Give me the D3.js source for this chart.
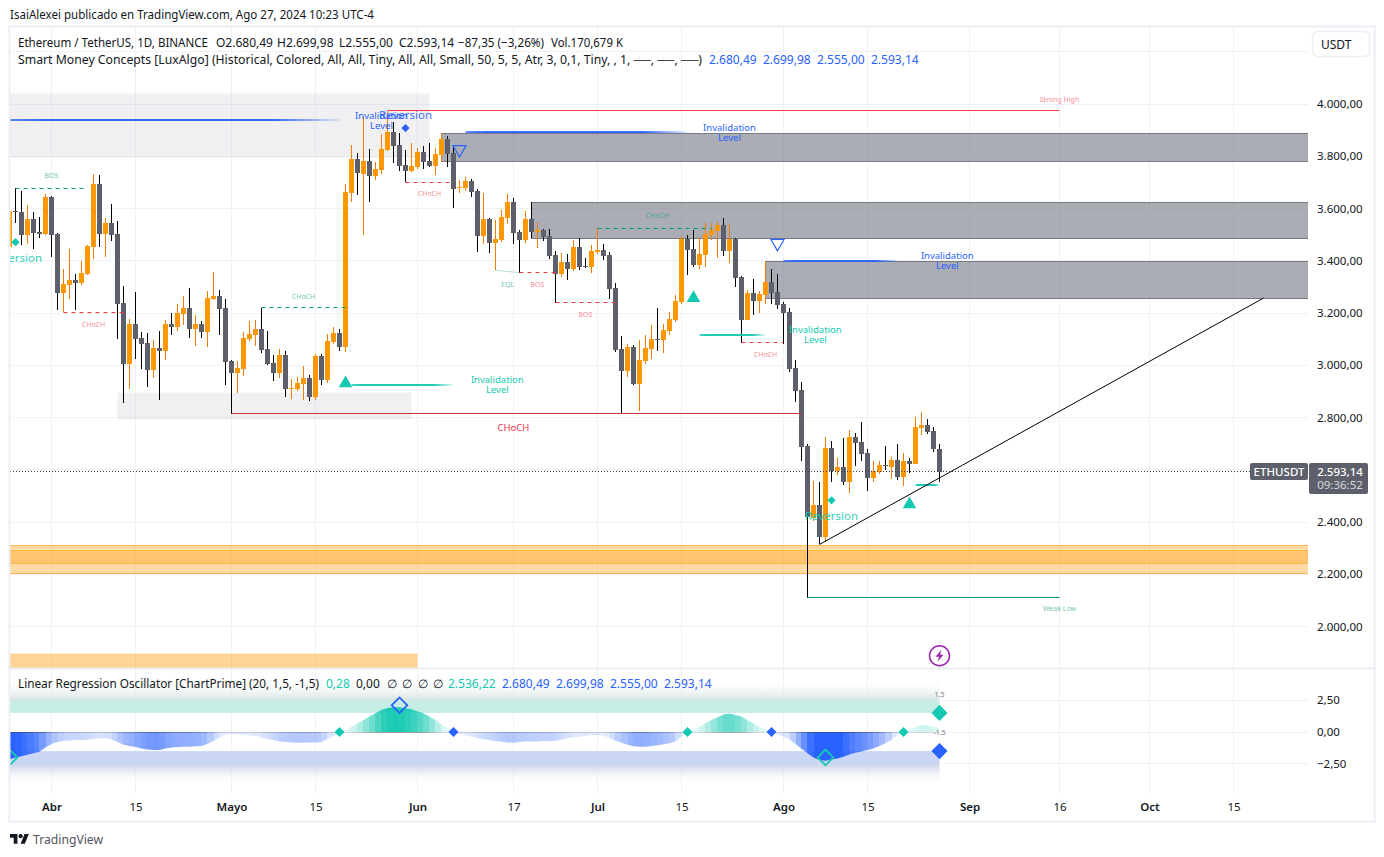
<!DOCTYPE html>
<html>
<head>
<meta charset="utf-8">
<style>
  html, body { margin: 0; padding: 0; background: #fff; }
  svg { display: block; }
  text { font-family: "Noto Sans", sans-serif; }
</style>
</head>
<body>
<svg id="chart" width="1384" height="857"></svg>
<script src="https://cdn.jsdelivr.net/npm/d3@7"></script>
<script>
// ETHUSDT daily candles, 25 Mar 2024 -> 27 Aug 2024
const FIRST_DAY = -7; // days relative to 1 Apr

const opens = [
  3454,3590,3586,3498,3559,3510,3502,3644,3502,3276,
  3307,3326,3314,3349,3452,3694,3502,3544,3502,3238,
  3004,3157,3104,3084,2981,3065,3054,3157,3146,3196,
  3219,3138,3157,3127,3253,3265,3219,3015,2969,2985,
  3100,3115,3138,3061,3008,2969,3038,2908,2908,2927,
  2950,2878,3035,2943,3088,3123,3069,3659,3789,3732,
  3782,3724,3747,3824,3894,3843,3766,3743,3759,3816,
  3782,3763,3805,3866,3812,3678,3678,3705,3667,3494,
  3559,3467,3479,3563,3625,3510,3479,3559,3510,3517,
  3494,3422,3349,3395,3368,3452,3378,3376,3433,3441,
  3422,3295,3061,2977,3069,2927,3015,3061,3100,3096,
  3130,3172,3241,3483,3444,3383,3421,3498,3513,3536,
  3437,3483,3337,3172,3276,3245,3268,3318,3280,3234,
  3203,2989,2904,2690,2414,2464,2341,2682,2594,2609,
  2552,2724,2705,2663,2567,2590,2617,2609,2636,2571,
  2632,2621,2759,2770,2747,2680.49
];
const highs = [
  3650,3677,3667,3613,3586,3567,3655,3648,3506,3368,
  3445,3349,3399,3460,3732,3728,3563,3617,3552,3303,
  3176,3280,3127,3123,3096,3130,3173,3199,3234,3265,
  3295,3192,3169,3284,3356,3288,3253,3022,3015,3127,
  3169,3173,3221,3130,3038,3061,3054,2947,2954,2996,
  2962,3042,3042,3119,3146,3138,3694,3843,3812,3952,
  3828,3778,3885,3975,3931,3889,3824,3851,3831,3839,
  3851,3831,3888,3877,3839,3709,3720,3713,3674,3659,
  3563,3556,3594,3655,3640,3517,3590,3625,3548,3521,
  3521,3437,3429,3425,3479,3488,3410,3460,3524,3464,
  3433,3314,3111,3081,3077,3096,3115,3153,3218,3157,
  3203,3268,3494,3498,3517,3490,3543,3543,3548,3563,
  3540,3487,3341,3287,3330,3284,3398,3368,3349,3241,
  3218,3019,2935,2697,2556,2552,2724,2709,2644,2720,
  2751,2740,2782,2678,2632,2632,2690,2648,2697,2663,
  2644,2801,2820,2793,2763,2699.98
];
const lows = [
  3420,3545,3460,3464,3445,3488,3500,3414,3211,3202,
  3253,3211,3307,3345,3406,3452,3414,3475,3100,2855,
  2908,3023,2985,2916,2950,2866,3019,3115,3130,3153,
  3104,3073,3104,3069,3249,3115,2924,2815,2893,2958,
  3092,3073,3046,3000,2939,2950,2878,2870,2901,2866,
  2862,2866,2924,2931,3081,3054,3050,3625,3651,3498,
  3625,3709,3732,3820,3774,3743,3701,3740,3751,3751,
  3759,3728,3779,3759,3602,3659,3667,3644,3433,3464,
  3429,3364,3471,3540,3464,3354,3467,3487,3448,3475,
  3406,3240,3337,3326,3360,3364,3372,3353,3425,3402,
  3253,3050,2815,2954,2923,2824,3004,3023,3054,3046,
  3115,3165,3234,3345,3376,3368,3376,3479,3410,3418,
  3391,3299,3087,3172,3192,3199,3234,3234,3215,3083,
  2973,2858,2632,2111,2402,2314,2322,2552,2579,2540,
  2510,2613,2632,2517,2552,2583,2598,2563,2560,2537,
  2586,2621,2732,2736,2667,2555
];
const closes = [
  3590,3585,3498,3559,3506,3502,3644,3498,3276,3310,
  3326,3314,3353,3456,3694,3502,3544,3498,3234,3004,
  3157,3100,3081,2981,3065,3054,3157,3146,3199,3219,
  3138,3157,3127,3257,3265,3215,3012,2969,2989,3104,
  3119,3138,3058,3004,2969,3038,2908,2912,2931,2950,
  2878,3035,2943,3092,3123,3069,3663,3789,3736,3782,
  3724,3751,3828,3894,3839,3763,3743,3763,3816,3778,
  3763,3808,3866,3808,3674,3682,3705,3663,3494,3559,
  3467,3483,3567,3625,3506,3479,3559,3510,3517,3490,
  3418,3349,3395,3368,3452,3376,3376,3437,3441,3418,
  3291,3058,2977,3069,2927,3019,3065,3100,3096,3134,
  3176,3245,3483,3441,3383,3425,3502,3517,3536,3437,
  3483,3333,3172,3276,3245,3272,3318,3276,3230,3199,
  2985,2900,2686,2418,2464,2341,2682,2594,2609,2552,
  2724,2701,2659,2567,2594,2617,2613,2636,2571,2632,
  2621,2763,2770,2743,2678,2593.14
];

// Linear Regression Oscillator, same days
const oscValues = [
  -2.16,-2.0,-1.9,-1.79,-1.68,-1.55,-1.21,-.95,-.79,-.68,
  -.66,-.63,-.63,-.6,-.55,-.5,-.5,-.58,-.79,-1.0,
  -1.1,-1.18,-1.29,-1.37,-1.42,-1.42,-1.29,-1.21,-1.18,-1.16,
  -1.16,-1.13,-1.1,-.95,-.68,-.45,-.18,-.16,-.18,-.24,
  -.26,-.32,-.45,-.55,-.63,-.74,-.79,-.82,-.84,-.84,
  -.82,-.82,-.79,-.55,-.32,-.08,.16,.42,.68,.95,
  1.21,1.47,1.74,1.89,1.95,1.95,1.87,1.79,1.63,1.47,
  1.21,.95,.55,.29,.02,-.16,-.26,-.37,-.5,-.58,
  -.63,-.71,-.76,-.82,-.84,-.79,-.74,-.74,-.74,-.71,
  -.71,-.68,-.58,-.5,-.42,-.37,-.32,-.24,-.24,-.29,
  -.47,-.68,-.84,-1.0,-1.13,-1.16,-1.16,-1.1,-1.05,-.97,
  -.89,-.74,-.37,-.05,.16,.42,.68,.95,1.16,1.37,
  1.45,1.34,1.21,.95,.68,.42,.21,.02,-.21,-.37,
  -.58,-.95,-1.32,-1.68,-2.0,-2.21,-2.26,-2.16,-2.08,-1.95,
  -1.76,-1.63,-1.53,-1.42,-1.29,-1.1,-.89,-.63,-.24,.02,
  .21,.42,.55,.53,.42,.28
];

const gridPrices = [4200,4000,3800,3600,3400,3200,3000,2800,2600,2400,2200,2000];
const labelledPrices = [4000,3800,3600,3400,3200,3000,2800,2400,2200,2000];
const oscTicks = [2.5, 0, -2.5];
const timeTickDates = ['2024-04-01','2024-04-15','2024-05-01','2024-05-15','2024-06-01','2024-06-17',
  '2024-07-01','2024-07-15','2024-08-01','2024-08-15','2024-09-01','2024-09-16','2024-10-01','2024-10-15'];
const timeTickLabels = ['Abr','15','Mayo','15','Jun','17','Jul','15','Ago','15','Sep','16','Oct','15'];
const monthLabels = ['Abr','Mayo','Jun','Jul','Ago','Sep','Oct'];

// zones: [startDay, endDay (null = past the price axis), topPrice, bottomPrice]
const lightZones = [[-7, 63, 4042, 3798], [11, 60, 2897, 2793]];
const darkZones = [[65, null, 3889, 3780], [80, null, 3625, 3487], [119, null, 3399, 3257]];

// structure lines: [startDay, endDay, price, colour]
const RED = '#f23645', GREEN = '#089981', TEAL = '#14c9b1', BLUE = '#2962ff';
const dashedLevels = [
  [-6, 6, 3677, GREEN], [2, 12, 3203, RED], [35, 49, 3221, GREEN], [59, 67, 3701, RED],
  [78, 84, 3354, RED], [84, 94, 3240, RED], [91, 110, 3524, GREEN], [115, 122, 3088, RED]
];
const solidLevels = [[56, 168, 3975, RED], [126, 168, 2111, GREEN], [30, 125, 2815, '#c9343f']];
const invalidationLines = [
  [-7, 48, 3935, BLUE], [69, 106, 3889, BLUE], [122, 141, 3399, BLUE],
  [50, 67, 2923, TEAL], [108, 119, 3115, TEAL], [144, 148, 2538, TEAL]
];
// [day, price, text, colour]
const smallLabels = [
  [0, 3728, 'BOS', GREEN], [7, 3155, 'CHoCH', RED], [42, 3264, 'CHoCH', GREEN], [63, 3659, 'CHoCH', RED],
  [76, 3308, 'EQL', GREEN], [81, 3308, 'BOS', RED], [89, 3194, 'BOS', RED], [101, 3573, 'CHoCH', GREEN],
  [119, 3040, 'CHoCH', RED], [168, 4019, 'Strong High', RED], [168, 2069, 'Weak Low', GREEN]
];
const invalidationLabels = [
  [55, 3954, BLUE], [113, 3908, BLUE], [149.3, 3418, BLUE], [74.3, 2943, TEAL], [127.3, 3134, TEAL]
];
const reversionLabels = [[59, 3958, BLUE], [130, 2425, TEAL], [-6, 3414, TEAL]];
const reversionDiamonds = [[59, 3908, BLUE], [130, 2483, TEAL], [-6, 3471, TEAL]];
const upTriangles = [[49, 2931], [107, 3257], [143, 2468]];
const downTriangles = [[68, 3826], [121, 3467]];
const trendLine = [[128, 2314], [202, 3257]];
const eqlLine = [[74, 3364], [78, 3354]];

// oscillator markers: [day, value, colour]
const oscSmallDiamonds = [[48, 0, TEAL], [67, 0, BLUE], [106, 0, TEAL], [120, 0, BLUE], [142, 0, TEAL]];
const oscOpenDiamonds = [[58, 2.1, BLUE], [129, -2.0, TEAL], [-7, -2.0, TEAL]];
const oscEndDiamonds = [[148, 1.5, TEAL], [148, -1.5, BLUE]];

const svg = d3.select('#chart');
const PANE = { left: 10, right: 1308, top: 27, split: 668, bottom: 794 };
const ORANGE = '#ff9800', ORANGE_WICK = '#f57c00', GRAY = '#5d606b';
const GRID = '#eff1f5', INK = '#131722';

// ── Scales ────────────────────────────────────────────────────────────────
const apr1 = Date.UTC(2024, 3, 1);
const dayDate = d => new Date(apr1 + d * 864e5);
const x = d3.scaleUtc()
  .domain([new Date('2024-04-01T00:00Z'), new Date('2024-10-15T00:00Z')])
  .range([51.5, 1233.5]);
const xd = d => x(dayDate(d));
const y = d3.scaleLinear().domain([4000, 2000]).range([104, 626.5]);
const yo = d3.scaleLinear().domain([2.5, -2.5]).range([700.2, 763.8]);
const rowOf = v => Math.floor(v) + 0.5; // keep 1px lines on a pixel row

const candles = opens.map((o, i) => ({
  day: FIRST_DAY + i, o, h: highs[i], l: lows[i], c: closes[i], osc: oscValues[i]
}));

const defs = svg.append('defs');
defs.append('clipPath').attr('id', 'clip-main').append('rect')
  .attr('x', PANE.left).attr('y', PANE.top)
  .attr('width', PANE.right - PANE.left).attr('height', PANE.split - PANE.top);
defs.append('clipPath').attr('id', 'clip-osc').append('rect')
  .attr('x', PANE.left).attr('y', PANE.split + 2)
  .attr('width', PANE.right - PANE.left + 20).attr('height', PANE.bottom - PANE.split);

function vGradient(id, c1, o1, c2, o2) {
  const g = defs.append('linearGradient').attr('id', id)
    .attr('x1', 0).attr('x2', 0).attr('y1', 0).attr('y2', 1);
  g.append('stop').attr('offset', 0).attr('stop-color', c1).attr('stop-opacity', o1);
  g.append('stop').attr('offset', 1).attr('stop-color', c2).attr('stop-opacity', o2);
}
vGradient('fade-top', '#ffffff', 0, '#d3e3e0', 1);
vGradient('fade-bottom', '#cfd5e8', 1, '#ffffff', 0);

// ── Grid ──────────────────────────────────────────────────────────────────
const gridG = svg.append('g');
timeTickDates.forEach(t => {
  gridG.append('line').attr('x1', x(new Date(t))).attr('x2', x(new Date(t)))
    .attr('y1', PANE.top).attr('y2', PANE.bottom)
    .attr('stroke', GRID).attr('shape-rendering', 'crispEdges');
});
gridPrices.forEach(p => {
  gridG.append('line').attr('x1', PANE.left).attr('x2', PANE.right)
    .attr('y1', rowOf(y(p))).attr('y2', rowOf(y(p))).attr('stroke', GRID);
});
oscTicks.forEach(v => {
  gridG.append('line').attr('x1', PANE.left).attr('x2', PANE.right)
    .attr('y1', rowOf(yo(v))).attr('y2', rowOf(yo(v))).attr('stroke', GRID);
});

// ── Main pane overlays under the candles ──────────────────────────────────
const main = svg.append('g').attr('clip-path', 'url(#clip-main)');

function zoneRect(g, z) {
  const x0 = xd(z[0]), x1 = z[1] === null ? PANE.right + 3 : xd(z[1]);
  return g.append('rect').attr('x', x0).attr('width', x1 - x0)
    .attr('y', Math.round(y(z[2])) + 0.5).attr('height', Math.round(y(z[3])) - Math.round(y(z[2])));
}
lightZones.forEach(z => zoneRect(main, z).attr('fill', '#b2b5be').attr('fill-opacity', 0.2));
darkZones.forEach(z => zoneRect(main, z)
  .attr('fill', '#787b86').attr('fill-opacity', 0.62)
  .attr('stroke', '#787b86').attr('stroke-width', 1));

// order blocks down below
zoneRect(main, [-7, null, 2313, 2204]).attr('fill', ORANGE).attr('fill-opacity', 0.36)
  .attr('stroke', '#ffb74d').attr('stroke-width', 1);
zoneRect(main, [-7, null, 2294, 2244]).attr('fill', ORANGE).attr('fill-opacity', 0.32)
  .attr('stroke', '#ffb74d').attr('stroke-width', 1);
zoneRect(main, [-7, 61, 1900, 1838]).attr('fill', ORANGE).attr('fill-opacity', 0.42);

// ── Candles ───────────────────────────────────────────────────────────────
const candleG = main.append('g');
const isUp = d => d.c >= d.o;
candleG.selectAll('.wick').data(candles).join('rect')
  .attr('class', 'wick')
  .attr('x', d => xd(d.day) - 0.5)
  .attr('width', 1)
  .attr('y', d => y(d.h))
  .attr('height', d => y(d.l) - y(d.h))
  .attr('fill', d => isUp(d) ? ORANGE_WICK : '#000')
  .attr('shape-rendering', 'crispEdges');
candleG.selectAll('.body').data(candles).join('rect')
  .attr('class', 'body')
  .attr('x', d => xd(d.day) - 2.5)
  .attr('width', 5)
  .attr('y', d => y(Math.max(d.o, d.c)))
  .attr('height', d => Math.max(1, Math.abs(y(d.o) - y(d.c))))
  .attr('fill', d => isUp(d) ? ORANGE : GRAY)
  .attr('shape-rendering', 'crispEdges');

// ── Structure lines and labels ────────────────────────────────────────────
const levelLine = (g, l) => g.append('line')
  .attr('x1', xd(l[0])).attr('x2', xd(l[1]))
  .attr('y1', rowOf(y(l[2]))).attr('y2', rowOf(y(l[2])))
  .attr('stroke', l[3]).attr('stroke-width', 1);

dashedLevels.forEach(l => levelLine(main, l).attr('stroke-dasharray', '4 4'));
solidLevels.forEach(l => levelLine(main, l));
main.append('path')
  .attr('d', d3.line().x(d => xd(d[0])).y(d => y(d[1]))(eqlLine))
  .attr('fill', 'none').attr('stroke', GREEN).attr('stroke-opacity', 0.6)
  .attr('stroke-dasharray', '1 1');

invalidationLines.forEach((l, i) => {
  const grad = defs.append('linearGradient').attr('id', `inv-${i}`)
    .attr('gradientUnits', 'userSpaceOnUse')
    .attr('x1', xd(l[0])).attr('x2', xd(l[1])).attr('y1', 0).attr('y2', 0);
  [[0, 0.75], [0.1, 0.95], [0.8, 0.95], [1, 0.1]].forEach(s => {
    grad.append('stop').attr('offset', s[0]).attr('stop-color', l[3]).attr('stop-opacity', s[1]);
  });
  main.append('rect').attr('x', xd(l[0])).attr('width', xd(l[1]) - xd(l[0]))
    .attr('y', Math.floor(y(l[2])) - 1).attr('height', 2)
    .attr('fill', `url(#inv-${i})`);
});

main.append('path')
  .attr('d', d3.line().x(d => xd(d[0])).y(d => y(d[1]))(trendLine))
  .attr('fill', 'none').attr('stroke', '#000').attr('stroke-width', 1);

const symbolAt = (g, type, size, cx, cy) => g.append('path')
  .attr('d', d3.symbol().type(type).size(size)())
  .attr('transform', `translate(${cx},${cy})`);
const diamondAt = (g, size, cx, cy) => g.append('path')
  .attr('d', d3.symbol().type(d3.symbolSquare).size(size)())
  .attr('transform', `translate(${cx},${cy}) rotate(45)`);

upTriangles.forEach(t => symbolAt(main, d3.symbolTriangle, 80, xd(t[0]), y(t[1])).attr('fill', TEAL));
downTriangles.forEach(t => {
  symbolAt(main, d3.symbolTriangle, 75, xd(t[0]), y(t[1]))
    .attr('transform', `translate(${xd(t[0])},${y(t[1])}) rotate(180)`)
    .attr('fill', 'none').attr('stroke', BLUE).attr('stroke-width', 1.2);
});
reversionDiamonds.forEach(d => diamondAt(main, 34, xd(d[0]), y(d[1])).attr('fill', d[2]));

smallLabels.forEach(l => {
  main.append('text').attr('x', xd(l[0])).attr('y', y(l[1]))
    .attr('text-anchor', 'middle').attr('dominant-baseline', 'central')
    .attr('font-size', 7).attr('fill', l[3]).attr('fill-opacity', 0.62).text(l[2]);
});
main.append('text').attr('x', xd(77)).attr('y', y(2763))
  .attr('text-anchor', 'middle').attr('dominant-baseline', 'central')
  .attr('font-size', 9.5).attr('fill', RED).text('CHoCH');

invalidationLabels.forEach(l => {
  const t = main.append('text').attr('text-anchor', 'middle')
    .attr('font-size', 9.5).attr('fill', l[2]);
  t.append('tspan').attr('x', xd(l[0])).attr('y', y(l[1]) + 2.5).text('Invalidation');
  t.append('tspan').attr('x', xd(l[0])).attr('y', y(l[1]) + 13).text('Level');
});
reversionLabels.forEach(l => {
  main.append('text').attr('x', xd(l[0])).attr('y', y(l[1]))
    .attr('text-anchor', 'middle').attr('dominant-baseline', 'central')
    .attr('font-size', 11.5).attr('fill', l[2]).attr('fill-opacity', 0.9).text('Reversion');
});

// last price dotted line
main.append('line')
  .attr('x1', PANE.left).attr('x2', PANE.right)
  .attr('y1', rowOf(y(2593.14))).attr('y2', rowOf(y(2593.14)))
  .attr('stroke', '#3a3d47').attr('stroke-dasharray', '1 2');

// lightning icon
const bolt = main.append('g').attr('transform', `translate(${xd(148)},${y(1888)})`);
bolt.append('circle').attr('r', 10).attr('fill', '#fff').attr('stroke', '#9c27b0').attr('stroke-width', 1.5);
bolt.append('path').attr('d', 'M2-6-4 1h3.5L-2 6 4-1H.5z').attr('fill', '#9c27b0');

// ── Oscillator pane ───────────────────────────────────────────────────────
const osc = svg.append('g').attr('clip-path', 'url(#clip-osc)');
const xEnd = xd(148);
osc.append('rect').attr('x', PANE.left).attr('width', xEnd - PANE.left)
  .attr('y', yo(4.2)).attr('height', yo(2.43) - yo(4.2)).attr('fill', 'url(#fade-top)');
osc.append('rect').attr('x', PANE.left).attr('width', xEnd - PANE.left)
  .attr('y', yo(2.43)).attr('height', yo(1.5) - yo(2.43)).attr('fill', '#c6ece6');
osc.append('rect').attr('x', PANE.left).attr('width', xEnd - PANE.left)
  .attr('y', yo(-1.5)).attr('height', yo(-2.6) - yo(-1.5)).attr('fill', '#cbd6f5');
osc.append('rect').attr('x', PANE.left).attr('width', xEnd - PANE.left)
  .attr('y', yo(-2.6)).attr('height', yo(-4.1) - yo(-2.6)).attr('fill', 'url(#fade-bottom)');

// histogram fill: one area, one colour step per day in a horizontal gradient
const oscAlpha = v => Math.pow(Math.min(1, Math.abs(v) / 2), 1.2);
const oscGrad = defs.append('linearGradient').attr('id', 'osc-steps')
  .attr('gradientUnits', 'userSpaceOnUse')
  .attr('x1', xd(FIRST_DAY)).attr('x2', xEnd).attr('y1', 0).attr('y2', 0);
const offsetOf = d => (d - FIRST_DAY) / (148 - FIRST_DAY);
d3.pairs(candles).forEach(([a, b]) => {
  const mid = (a.osc + b.osc) / 2;
  [a.day, b.day].forEach(d => {
    oscGrad.append('stop').attr('offset', offsetOf(d))
      .attr('stop-color', mid >= 0 ? TEAL : BLUE)
      .attr('stop-opacity', Math.max(0.14, oscAlpha(mid)));
  });
  // dark dotted zero line, fading with the histogram
  osc.append('line').attr('x1', xd(a.day)).attr('x2', xd(b.day))
    .attr('y1', rowOf(yo(0))).attr('y2', rowOf(yo(0)))
    .attr('stroke', '#333').attr('stroke-dasharray', '1 1')
    .attr('stroke-opacity', Math.min(0.85, 0.15 + oscAlpha(mid)));
});
osc.insert('path', 'line')
  .attr('d', d3.area().x(d => xd(d.day)).y0(yo(0)).y1(d => yo(d.osc))(candles))
  .attr('fill', 'url(#osc-steps)');

oscSmallDiamonds.forEach(d => diamondAt(osc, 50, xd(d[0]), yo(d[1])).attr('fill', d[2]));
oscOpenDiamonds.forEach(d => diamondAt(osc, 122, xd(d[0]), yo(d[1]))
  .attr('fill', 'none').attr('stroke', d[2]).attr('stroke-width', 1.8));
oscEndDiamonds.forEach(d => diamondAt(osc, 130, xd(d[0]), yo(d[1])).attr('fill', d[2]));
[['1.5', 1.5 + 1.5], ['-1.5', 0]].forEach(l => {
  osc.append('text').attr('x', xEnd).attr('y', yo(l[1]) + 0.5)
    .attr('text-anchor', 'middle').attr('dominant-baseline', 'central')
    .attr('font-size', 7).attr('fill', '#787b86').text(l[0]);
});

// ── Frame and pane split ──────────────────────────────────────────────────
svg.append('rect').attr('x', 9.5).attr('y', 26.5).attr('width', 1365).attr('height', 795)
  .attr('fill', 'none').attr('stroke', '#eceef4').attr('stroke-width', 2);
svg.append('line').attr('x1', PANE.left).attr('x2', 1374)
  .attr('y1', PANE.split + 0.5).attr('y2', PANE.split + 0.5)
  .attr('stroke', '#eceef4').attr('stroke-width', 2);

// ── Axes ──────────────────────────────────────────────────────────────────
const es = d3.formatLocale({ decimal: ',', thousands: '.', grouping: [3], currency: ['', ''], minus: '\u2212' });
const fmtPrice = es.format(',.2f');

const yAxisG = svg.append('g').attr('transform', `translate(${PANE.right},0)`)
  .call(d3.axisRight(y).tickValues(labelledPrices).tickFormat(fmtPrice).tickSize(0).tickPadding(9));
const oAxisG = svg.append('g').attr('transform', `translate(${PANE.right},0)`)
  .call(d3.axisRight(yo).tickValues(oscTicks).tickFormat(fmtPrice).tickSize(0).tickPadding(9));
const xAxisG = svg.append('g').attr('transform', `translate(0,${PANE.bottom})`)
  .call(d3.axisBottom(x).tickValues(timeTickDates.map(t => new Date(t)))
    .tickFormat((t, i) => timeTickLabels[i]).tickSize(0).tickPadding(9));

[yAxisG, oAxisG, xAxisG].forEach(g => {
  g.select('.domain').remove();
  g.selectAll('text').attr('font-family', '"Noto Sans", sans-serif')
    .attr('font-size', 11.5).attr('fill', INK);
});
xAxisG.selectAll('text')
  .attr('font-weight', (t, i) => monthLabels.includes(timeTickLabels[i]) ? 600 : 400);

// ── USDT button and price tag ─────────────────────────────────────────────
svg.append('rect').attr('x', 1312.5).attr('y', 31.5).attr('width', 57).attr('height', 25).attr('rx', 5)
  .attr('fill', '#fff').attr('stroke', '#eceef4').attr('stroke-width', 1.5);
svg.append('text').attr('x', 1321).attr('y', 48.5).attr('font-size', 12).attr('fill', INK).text('USDT');

const tagY = Math.floor(y(2593.14));
svg.append('rect').attr('x', 1250).attr('y', tagY - 8).attr('width', 58).attr('height', 17).attr('rx', 2).attr('fill', GRAY);
svg.append('text').attr('x', 1279).attr('y', tagY + 4.5).attr('text-anchor', 'middle')
  .attr('font-size', 11.5).attr('font-weight', 500).attr('fill', '#fff').text('ETHUSDT');
svg.append('rect').attr('x', 1309).attr('y', tagY - 8).attr('width', 59).attr('height', 31).attr('rx', 2).attr('fill', GRAY);
svg.append('text').attr('x', 1340).attr('y', tagY + 4.5).attr('text-anchor', 'middle')
  .attr('font-size', 11.5).attr('font-weight', 500).attr('fill', '#fff').text('2.593,14');
svg.append('text').attr('x', 1340).attr('y', tagY + 18).attr('text-anchor', 'middle')
  .attr('font-size', 11.5).attr('fill', '#d8d9de').text('09:36:52');

// ── Header texts ──────────────────────────────────────────────────────────
const putText = (tx, ty, str, fill = INK, size = 12, len = null) => {
  const t = svg.append('text')
    .attr('x', tx).attr('y', ty).attr('font-size', size).attr('fill', fill).text(str);
  if (len) t.attr('textLength', len).attr('lengthAdjust', 'spacingAndGlyphs');
  return t;
};

putText(10, 19, 'IsaiAlexei publicado en TradingView.com, Ago 27, 2024 10:23 UTC-4', INK, 12.5, 364);

putText(18, 47, 'Ethereum / TetherUS, 1D, BINANCE', INK, 12, 190);
putText(216, 47, 'O2.680,49');
putText(277, 47, 'H2.699,98');
putText(339, 47, 'L2.555,00');
putText(399, 47, 'C2.593,14');
putText(458, 47, '\u221287,35 (\u22123,26%)', INK, 12, 86);
putText(551, 47, 'Vol.170,679 K', INK, 12, 72);

putText(18, 64, 'Smart Money Concepts [LuxAlgo] (Historical, Colored, All, All, Tiny, All, All, Small, 50, 5, 5, Atr, 3, 0,1, Tiny, , 1, \u2500\u2500, \u2500\u2500, \u2500\u2500)', INK, 12, 684);
[[709, '2.680,49'], [763, '2.699,98'], [817, '2.555,00'], [871, '2.593,14']].forEach(t => putText(t[0], 64, t[1], BLUE));

putText(18, 688, 'Linear Regression Oscillator [ChartPrime] (20, 1,5, -1,5)', INK, 12, 301);
putText(326, 688, '0,28', TEAL);
putText(356, 688, '0,00');
[387, 402, 418, 433].forEach(px => putText(px, 688, '\u2205'));
putText(448, 688, '2.536,22', TEAL);
[[502, '2.680,49'], [556, '2.699,98'], [610, '2.555,00'], [664, '2.593,14']].forEach(t => putText(t[0], 688, t[1], BLUE));

// ── TradingView mark ──────────────────────────────────────────────────────
const logo = svg.append('g').attr('transform', 'translate(10,832) scale(0.53)').attr('fill', INK);
logo.append('path').attr('d', 'M14 22H7V11H0V4h14v18ZM28 22h-8l7.5-18h8L28 22Z');
logo.append('circle').attr('cx', 20).attr('cy', 8).attr('r', 4);
putText(33, 844, 'TradingView', '#50535e', 13, 70);
</script>
</body>
</html>
